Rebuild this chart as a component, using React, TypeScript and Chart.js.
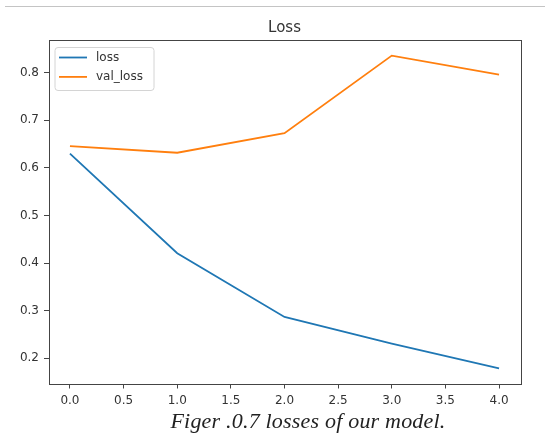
import React, { useEffect, useRef } from "react";
import { Chart, registerables } from "chart.js";
Chart.register(...registerables);

const epochs = [0, 1, 2, 3, 4];
const loss = [0.63, 0.421, 0.287, 0.231, 0.179];
const valLoss = [0.646, 0.632, 0.673, 0.836, 0.796];
const xTicks = [0, 0.5, 1, 1.5, 2, 2.5, 3, 3.5, 4];
const yTicks = [0.2, 0.3, 0.4, 0.5, 0.6, 0.7, 0.8];
const seriesLabels = ["loss", "val_loss"];
const seriesColors = ["#1f77b4", "#ff7f0e"];
const TITLE = "Loss";
const CAPTION = "Figer .0.7 losses of our model.";

const allY = [...loss, ...valLoss];
const yLo = Math.min(...allY);
const yHi = Math.max(...allY);
const yPad = (yHi - yLo) * 0.05;
const xPad = (epochs[epochs.length - 1] - epochs[0]) * 0.05;

const FONT = "'DejaVu Sans', sans-serif";
const TEXT = "#333333";
const FRAME = "#444444";

const framePlugin = {
  id: "frame",
  afterDatasetsDraw(chart: any) {
    const { ctx, chartArea } = chart;
    ctx.save();
    ctx.strokeStyle = FRAME;
    ctx.lineWidth = 1;
    ctx.strokeRect(
      Math.round(chartArea.left) + 0.5,
      Math.round(chartArea.top) + 0.5,
      Math.round(chartArea.right - chartArea.left),
      Math.round(chartArea.bottom - chartArea.top)
    );
    // legend
    const bx = chartArea.left + 6.5;
    const by = chartArea.top + 7.5;
    const bw = 99;
    const bh = 43;
    ctx.beginPath();
    ctx.roundRect(bx, by, bw, bh, 3);
    ctx.fillStyle = "rgba(255,255,255,0.8)";
    ctx.fill();
    ctx.strokeStyle = "#d4d4d4";
    ctx.stroke();
    ctx.font = `12px ${FONT}`;
    ctx.textBaseline = "middle";
    ctx.textAlign = "left";
    chart.data.datasets.forEach((ds: any, i: number) => {
      const y = by + 10 + i * 19.4;
      ctx.beginPath();
      ctx.moveTo(bx + 4, y);
      ctx.lineTo(bx + 32, y);
      ctx.strokeStyle = ds.borderColor;
      ctx.lineWidth = 1.8;
      ctx.stroke();
      ctx.fillStyle = TEXT;
      ctx.fillText(ds.label, bx + 41, y);
    });
    ctx.restore();
  },
};

export default function App() {
  const ref = useRef<HTMLCanvasElement | null>(null);
  useEffect(() => {
    if (!ref.current) return;
    const chart = new Chart(ref.current, {
      type: "line",
      data: {
        datasets: [loss, valLoss].map((arr, i) => ({
          label: seriesLabels[i],
          data: epochs.map((x, j) => ({ x, y: arr[j] })),
          borderColor: seriesColors[i],
          backgroundColor: seriesColors[i],
          borderWidth: 1.8,
          pointRadius: 0,
          tension: 0,
          fill: false,
        })),
      },
      options: {
        animation: false,
        responsive: false,
        layout: { padding: { left: 0, right: 24.5, top: 0, bottom: 0 } },
        plugins: {
          legend: { display: false },
          tooltip: { enabled: false },
          title: {
            display: true,
            text: TITLE,
            fullSize: false,
            color: TEXT,
            font: { family: FONT, size: 15, weight: "normal" },
            padding: { top: 19.2, bottom: 2.8 },
          },
        },
        scales: {
          x: {
            type: "linear",
            min: epochs[0] - xPad,
            max: epochs[epochs.length - 1] + xPad,
            afterBuildTicks: (s: any) => {
              s.ticks = xTicks.map((v) => ({ value: v }));
            },
            afterFit: (s: any) => {
              s.height = 50;
            },
            border: { display: false },
            grid: {
              drawOnChartArea: false,
              drawTicks: true,
              tickLength: 4.5,
              tickColor: FRAME,
              tickWidth: 1,
            },
            ticks: {
              color: TEXT,
              font: { family: FONT, size: 12 },
              padding: 5.5,
              maxRotation: 0,
              callback: (v: any) => Number(v).toFixed(1),
            },
          },
          y: {
            type: "linear",
            min: yLo - yPad,
            max: yHi + yPad,
            afterBuildTicks: (s: any) => {
              s.ticks = yTicks.map((v) => ({ value: v }));
            },
            afterFit: (s: any) => {
              s.width = 48.5;
            },
            border: { display: false },
            grid: {
              drawOnChartArea: false,
              drawTicks: true,
              tickLength: 4.5,
              tickColor: FRAME,
              tickWidth: 1,
            },
            ticks: {
              color: TEXT,
              font: { family: FONT, size: 12 },
              padding: 5,
              callback: (v: any) => Number(v).toFixed(1),
            },
          },
        },
      },
      plugins: [framePlugin],
    });
    return () => chart.destroy();
  }, []);

  return (
    <div
      style={{
        position: "absolute",
        left: 0,
        top: 0,
        width: 545,
        height: 434,
        overflow: "hidden",
        background: "#ffffff",
      }}
    >
      <div
        style={{
          position: "absolute",
          left: 5,
          top: 6,
          width: 540,
          height: 1,
          background: "#c4c4c4",
        }}
      />
      <canvas
        ref={ref}
        width={545}
        height={434}
        style={{ position: "absolute", left: 0, top: 0 }}
      />
      <div
        style={{
          position: "absolute",
          left: 308,
          top: 408,
          transform: "translateX(-50%)",
          whiteSpace: "nowrap",
          fontFamily: "'Liberation Serif', 'Times New Roman', serif",
          fontStyle: "italic",
          fontSize: 22,
          letterSpacing: "0.2px",
          color: "#222222",
          lineHeight: "25px",
        }}
      >
        {CAPTION}
      </div>
    </div>
  );
}
